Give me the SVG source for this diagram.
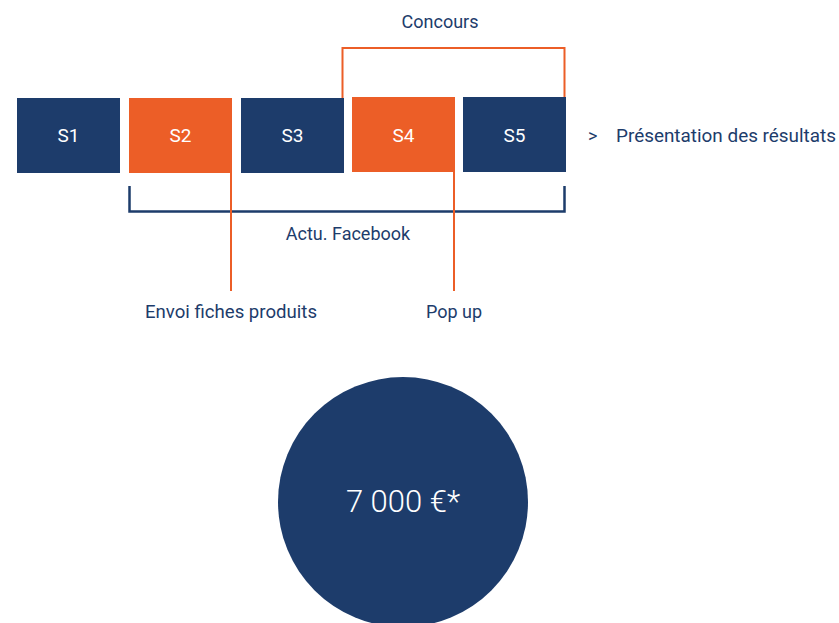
<svg xmlns="http://www.w3.org/2000/svg" width="839" height="623" viewBox="0 0 839 623">
<style>
.navy{fill:#1D3C6B}
.orange{fill:#EC5E27}
.lbl{font-family:Roboto,"Open Sans",sans-serif;font-size:18px;fill:#1D3C6B}
.box{font-family:Roboto,"Open Sans",sans-serif;font-size:19px;fill:#FFFFFF;text-anchor:middle}
.ol{stroke:#EC5E27;stroke-width:2;fill:none}
.nl{stroke:#1D3C6B;stroke-width:2.5;fill:none}
</style>
<rect width="839" height="623" fill="#FFFFFF"/>
<g id="connectors">
<path class="ol" d="M342.5,98 V48 H564.5 V97"/>
<path class="nl" d="M129.5,186 V211.5 H564.5 V186"/>
<path class="ol" d="M231,173 V291"/>
<path class="ol" d="M454,172 V291"/>
</g>
<g id="s1"><rect class="navy" x="17" y="98" width="103" height="75"/><text class="box" x="68.5" y="142">S1</text></g>
<g id="s2"><rect class="orange" x="129" y="98" width="103" height="75"/><text class="box" x="180.5" y="142">S2</text></g>
<g id="s3"><rect class="navy" x="241" y="98" width="103" height="75"/><text class="box" x="292.5" y="142">S3</text></g>
<g id="s4"><rect class="orange" x="352" y="97" width="103" height="75"/><text class="box" x="403.5" y="142">S4</text></g>
<g id="s5"><rect class="navy" x="463" y="97" width="103" height="75"/><text class="box" x="514.5" y="142">S5</text></g>
<g id="labels">
<text class="lbl" x="440" y="28" text-anchor="middle">Concours</text>
<text class="lbl" x="348" y="240" text-anchor="middle">Actu. Facebook</text>
<text class="lbl" x="231" y="318" text-anchor="middle" textLength="172" lengthAdjust="spacingAndGlyphs">Envoi fiches produits</text>
<text class="lbl" x="454" y="318" text-anchor="middle">Pop up</text>
<text class="lbl" x="588" y="142">&gt;</text>
<text class="lbl" x="616" y="142" textLength="220" lengthAdjust="spacingAndGlyphs">Présentation des résultats</text>
</g>
<g id="budget">
<circle class="navy" cx="403" cy="502" r="125"/>
<text x="403" y="512" text-anchor="middle" font-family="Roboto,'Open Sans',sans-serif" font-weight="300" font-size="31" fill="#FFFFFF">7 000 €*</text>
</g>
</svg>
